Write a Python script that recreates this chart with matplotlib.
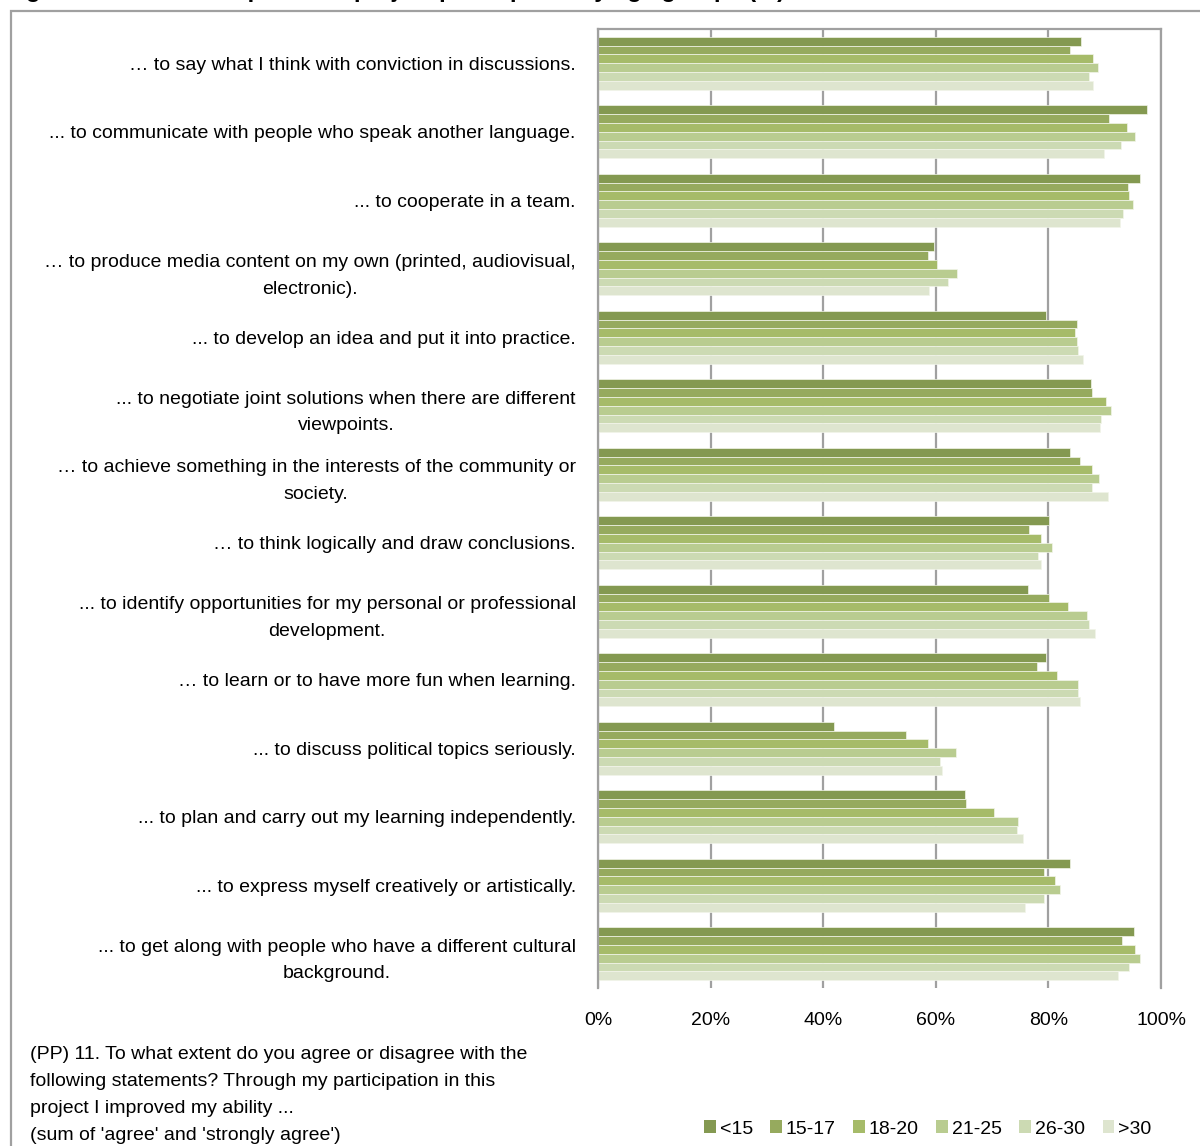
import numpy as np
import matplotlib
matplotlib.use("Agg")
import matplotlib.pyplot as plt
from matplotlib.patches import Patch, Rectangle

plt.rcParams['font.family'] = ['Liberation Sans', 'DejaVu Sans']

# Itens da pergunta (PP) 11
itens = [
    "… to say what I think with conviction in discussions.",
    "... to communicate with people who speak another language.",
    "... to cooperate in a team.",
    "… to produce media content on my own (printed, audiovisual,\nelectronic).",
    "... to develop an idea and put it into practice.",
    "... to negotiate joint solutions when there are different\nviewpoints.",
    "… to achieve something in the interests of the community or\nsociety.",
    "… to think logically and draw conclusions.",
    "... to identify opportunities for my personal or professional\ndevelopment.",
    "… to learn or to have more fun when learning.",
    "... to discuss political topics seriously.",
    "... to plan and carry out my learning independently.",
    "... to express myself creatively or artistically.",
    "... to get along with people who have a different cultural\nbackground.",
]

faixas = ["<15", "15-17", "18-20", "21-25", "26-30", ">30"]

# percentual de 'agree' + 'strongly agree' por faixa etária
menos_15 = [85.8, 97.5, 96.3, 59.7, 79.5, 87.5, 83.9, 80.1, 76.3, 79.5, 42.0, 65.2, 83.8, 95.2]
de_15_17 = [83.9, 90.7, 94.1, 58.6, 85.1, 87.8, 85.6, 76.5, 80.1, 78.0, 54.7, 65.4, 79.3, 93.1]
de_18_20 = [88.0, 93.9, 94.4, 60.2, 84.8, 90.2, 87.8, 78.7, 83.4, 81.5, 58.6, 70.3, 81.1, 95.4]
de_21_25 = [88.8, 95.3, 95.1, 63.8, 85.1, 91.2, 89.0, 80.6, 86.9, 85.3, 63.5, 74.6, 82.0, 96.3]
de_26_30 = [87.3, 92.9, 93.3, 62.1, 85.2, 89.4, 87.8, 78.2, 87.2, 85.2, 60.8, 74.4, 79.2, 94.4]
mais_30 = [88.0, 89.9, 92.7, 58.8, 86.1, 89.1, 90.6, 78.6, 88.3, 85.6, 61.1, 75.4, 75.9, 92.4]

series = [menos_15, de_15_17, de_18_20, de_21_25, de_26_30, mais_30]
cores = ["#849951", "#96AA5E", "#A6BB69", "#B9CC90", "#CCDAB3", "#DEE5CF"]

TAM = 14  # tamanho da fonte dos textos

fig = plt.figure(figsize=(12, 11.46), dpi=100)
ax = fig.add_axes([598 / 1200, 1 - 988 / 1146, 563 / 1200, 959 / 1146])

n = len(itens)
y = np.arange(n)
altura = 0.128
for i, (valores, cor) in enumerate(zip(series, cores)):
    desloc = (i - 2.5) * altura
    ax.barh(y + desloc, valores, height=altura, color=cor,
            edgecolor="#F2F5EA", linewidth=0.5, zorder=2)

ax.set_xlim(0, 100)
ax.set_ylim(n - 0.5, -0.5)
ax.set_xticks(np.arange(0, 101, 20))
ax.set_xticklabels([f"{v}%" for v in range(0, 101, 20)])
ax.set_yticks(y)
ax.set_yticklabels(itens, multialignment="center", linespacing=1.75)
ax.tick_params(axis="x", length=0, pad=17, labelsize=TAM)
ax.tick_params(axis="y", length=0, pad=16, labelsize=TAM)
ax.grid(axis="x", color="#A0A0A0", linewidth=1.6, zorder=1)
for lado in ["top", "right", "left"]:
    ax.spines[lado].set_color("#A0A0A0")
    ax.spines[lado].set_linewidth(1.6)
ax.spines["bottom"].set_visible(False)

# moldura externa
fig.patches.append(Rectangle((11 / 1200, -0.01), 1.0, 1 - 11 / 1146 + 0.01,
                             transform=fig.transFigure, fill=False,
                             edgecolor="#A0A0A0", linewidth=1.6))

# título (cortado na borda superior)
fig.text(0.004, 1 + 3 / 1146, "Figure 14: The development of project participants by age groups (%)",
         fontsize=17, fontweight="bold", va="baseline", ha="left")

fig.text(30 / 1200, 1 - 1046 / 1146,
         "(PP) 11. To what extent do you agree or disagree with the\n"
         "following statements? Through my participation in this\n"
         "project I improved my ability ...\n"
         "(sum of 'agree' and 'strongly agree')",
         fontsize=TAM, va="top", ha="left", linespacing=1.78)

alcas = [Patch(facecolor=c, edgecolor="none") for c in cores]
fig.legend(alcas, faixas, loc="center left", bbox_to_anchor=(704 / 1200, 1 - 1129 / 1146),
           ncol=6, frameon=False, fontsize=TAM, handlelength=0.6, handleheight=0.6,
           handletextpad=0.2, columnspacing=0.9, borderaxespad=0, borderpad=0)

fig.savefig("out.png", dpi=100)
